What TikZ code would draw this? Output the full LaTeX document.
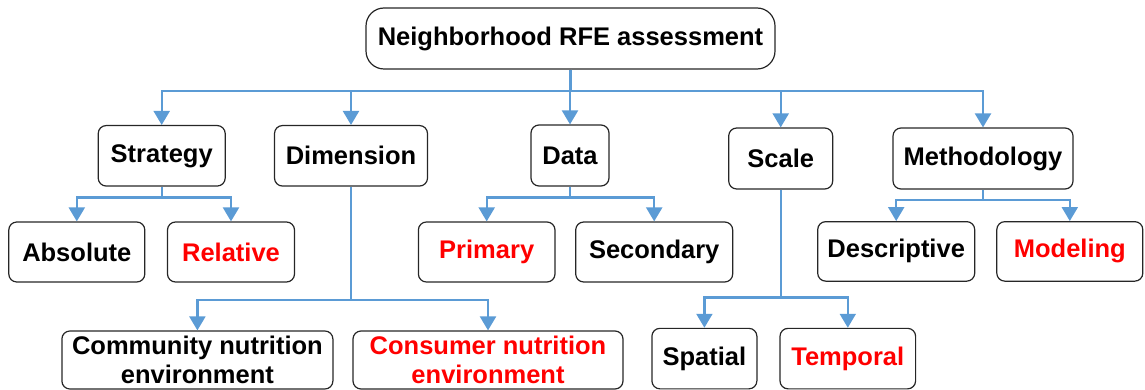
\documentclass[tikz,border=0pt]{standalone}
\usepackage{fontspec}
\setmainfont{Liberation Sans}
\usetikzlibrary{arrows.meta}
\definecolor{conn}{RGB}{91,155,213}
\begin{document}
\begin{tikzpicture}[x=1pt,y=-1pt,
  box/.style={draw=black!85,line width=1.2pt,rounded corners=8pt,align=center,
    font=\fontsize{25.5}{29}\selectfont\bfseries,inner sep=0pt},
  rootbox/.style={box,rounded corners=18pt},
  redtext/.style={text=red},
  arr/.style={draw=conn,line width=2.2pt,-{Triangle[width=16pt,length=14pt]}}]
\useasboundingbox (0,0) rectangle (1145,390);
% level 0
\node[rootbox,minimum width=409pt,minimum height=61pt] (root) at (570.5,38.5) {Neighborhood RFE assessment};
% level 1
\node[box,minimum width=127pt,minimum height=60.5pt] (strategy) at (161.7,155.8) {Strategy};
\node[box,minimum width=153pt,minimum height=60.5pt] (dimension) at (351,155.8) {Dimension};
\node[box,minimum width=78pt,minimum height=61pt] (data) at (570,155.5) {Data};
\node[box,minimum width=104pt,minimum height=61pt] (scale) at (780.7,158.5) {Scale};
\node[box,minimum width=180pt,minimum height=61pt] (method) at (983,158.5) {Methodology};
% level 2
\node[box,minimum width=136pt,minimum height=60pt] (absolute) at (76.8,252) {Absolute};
\node[box,redtext,minimum width=127pt,minimum height=60pt] (relative) at (231,252) {Relative};
\node[box,redtext,minimum width=136.6pt,minimum height=60pt] (primary) at (486.7,252) {Primary};
\node[box,minimum width=157pt,minimum height=60pt] (secondary) at (654.2,252) {Secondary};
\node[box,minimum width=157pt,minimum height=59.5pt] (descriptive) at (896.2,251.4) {Descriptive};
\node[box,redtext,minimum width=146pt,minimum height=59.5pt] (modeling) at (1069.8,251.4) {Modeling};
\node[box,minimum width=271pt,minimum height=58pt] (community) at (197.4,360) {Community nutrition\\environment};
\node[box,redtext,minimum width=270pt,minimum height=58pt] (consumer) at (488,360) {Consumer nutrition\\environment};
\node[box,minimum width=105pt,minimum height=60.5pt] (spatial) at (704.4,358.6) {Spatial};
\node[box,redtext,minimum width=135.6pt,minimum height=60.5pt] (temporal) at (847.8,358.6) {Temporal};
% bus coordinates
\coordinate (b0) at (570.5,91);
\coordinate (bs) at (161.7,197.5);
\coordinate (bd) at (351,300);
\coordinate (bda) at (570,197.5);
\coordinate (bsc) at (780.7,297.5);
\coordinate (bm) at (983,200);
% connectors
\foreach \c in {strategy,dimension,data,scale,method}
  \draw[arr] (root.south) -- (b0) -| (\c.north);
\foreach \c in {absolute,relative}
  \draw[arr] (strategy.south) -- (bs) -| (\c.north);
\foreach \c in {community,consumer}
  \draw[arr] (dimension.south) -- (bd) -| (\c.north);
\foreach \c in {primary,secondary}
  \draw[arr] (data.south) -- (bda) -| (\c.north);
\foreach \c in {spatial,temporal}
  \draw[arr] (scale.south) -- (bsc) -| (\c.north);
\foreach \c in {descriptive,modeling}
  \draw[arr] (method.south) -- (bm) -| (\c.north);
\end{tikzpicture}
\end{document}
